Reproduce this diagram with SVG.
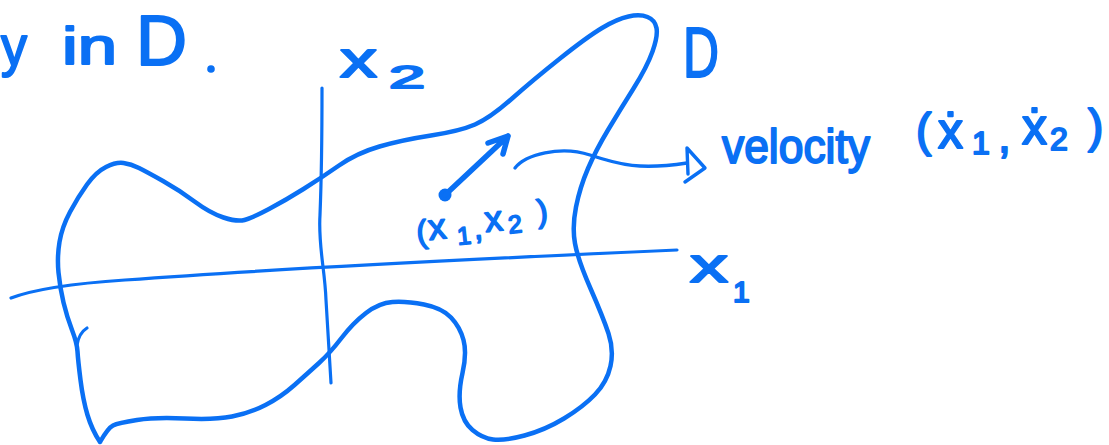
<svg xmlns="http://www.w3.org/2000/svg" width="1109" height="445" viewBox="0 0 1109 445">
  <defs>
    <style>
      .ink { fill: none; stroke: #0a70f4; stroke-linecap: round; stroke-linejoin: round; }
      .blob { stroke-width: 4.5; }
      .axis { stroke-width: 3.2; }
      .conn { stroke-width: 3.4; }
      .vec { stroke-width: 5.5; }
      .t { fill: #0a70f4; stroke: #0a70f4; stroke-width: 2; stroke-linejoin: round; font-family: "Liberation Sans", "DejaVu Sans", sans-serif; }
      .ts { stroke-width: 1.6; }
    </style>
  </defs>
  <rect width="1109" height="445" fill="#ffffff"/>

  <g id="caption">
    <text class="t" x="1" y="65" font-size="56" textLength="26" lengthAdjust="spacingAndGlyphs">y</text>
    <text class="t" x="62" y="64" font-size="52" textLength="55" lengthAdjust="spacingAndGlyphs">in</text>
    <text class="t" x="136" y="65" font-size="70" textLength="51" lengthAdjust="spacingAndGlyphs">D</text>
    <circle cx="211" cy="69" r="3.8" fill="#0a70f4"/>
  </g>

  <g id="region-D">
    <path class="ink blob" d="M100,442 Q92,430 87.5,415 Q83,400 80.5,380 Q78,360 77.5,351.5 Q77,343 72,330 Q67,317 63.5,302.5 Q60,288 58.5,272.5 Q57,257 59.5,242 Q62,227 70,212 Q78,197 87,184.5 Q96,172 106,167 Q116,162 123.5,163 Q131,164 139,168 Q147,172 163,181 Q179,190 194.5,201.5 Q210,213 223.5,217.5 Q237,222 244.5,220 Q252,218 269,209 Q286,200 303.5,189 Q321,178 339,165.5 Q357,153 379.5,146.5 Q402,140 431,135.5 Q460,131 475,124.5 Q490,118 511.5,99 Q533,80 560,58.5 Q587,37 602,28 Q617,19 628.5,16.5 Q640,14 647.5,17 Q655,20 656.5,28 Q658,36 652.5,51.5 Q647,67 633.5,88.5 Q620,110 608,130 Q596,150 588,168.5 Q580,187 576,207 Q572,227 575,243.5 Q578,260 590.5,288.5 Q603,317 608.5,333.5 Q614,350 610.5,366 Q607,382 595,394.5 Q583,407 564,418.5 Q545,430 524.5,435.5 Q504,441 493,439.5 Q482,438 472.5,430 Q463,422 460.5,407.5 Q458,393 462.5,373 Q467,353 463.5,340 Q460,327 451,317.5 Q442,308 424,304.5 Q406,301 392.5,302 Q379,303 366,313 Q353,323 341.5,338 Q330,353 319,363 Q308,373 294.5,385 Q281,397 265.5,405 Q250,413 232,416.5 Q214,420 185,418.5 Q156,417 137,420 Q118,423 113,425.5 Q108,428 100,442"/>
    <path class="ink axis" d="M77,345 Q79,333 87,328"/>
  </g>

  <g id="label-D">
    <text class="t" x="683" y="77" font-size="70" textLength="36" lengthAdjust="spacingAndGlyphs">D</text>
  </g>

  <g id="axis-x2">
    <path class="ink axis" d="M322,88 C322,150 321,190 320,215 C318,245 325,270 326,300 L331,383"/>
    <text class="t" x="340" y="77" font-size="50" textLength="37" lengthAdjust="spacingAndGlyphs">x</text>
    <text class="t" x="389" y="88" font-size="32" textLength="36" lengthAdjust="spacingAndGlyphs">2</text>
  </g>

  <g id="axis-x1">
    <path class="ink axis" d="M11,298 C35,289 80,283 125,280 C260,270 450,260 677,250"/>
    <text class="t" x="690" y="282" font-size="48" textLength="38" lengthAdjust="spacingAndGlyphs">x</text>
    <text class="t" x="733" y="302" font-size="30">1</text>
  </g>

  <g id="point">
    <circle cx="445" cy="195" r="6.5" fill="#0a70f4"/>
    <text class="t ts" font-size="32" transform="rotate(-6 485 225)">
      <tspan x="416" y="236">(</tspan><tspan x="428" y="234" font-size="36">x</tspan><tspan x="456" y="242" font-size="25">1</tspan><tspan x="473" y="238">,</tspan><tspan x="485" y="232" font-size="36">x</tspan><tspan x="508" y="236" font-size="25">2</tspan><tspan x="538" y="228">)</tspan>
    </text>
  </g>

  <g id="connectors">
    <path class="ink vec" d="M445,195 L508,136 M488,143 L508,136 L503,154"/>
    <path class="ink conn" d="M515,168 C525,155 560,145 590,155 C620,165 640,170 687,163"/>
    <path class="ink conn" d="M687,148 L688,174 M687,148 L705,168 L685,182"/>
  </g>

  <g id="label-velocity">
    <text class="t" x="722" y="163" font-size="48" textLength="148" lengthAdjust="spacingAndGlyphs">velocity</text>
    <text class="t" font-size="46">
      <tspan x="916" y="146">(</tspan><tspan x="938" y="148" font-size="50">ẋ</tspan><tspan x="972" y="154" font-size="32">1</tspan><tspan x="998" y="152">,</tspan><tspan x="1022" y="144" font-size="50">ẋ</tspan><tspan x="1050" y="150" font-size="32">2</tspan><tspan x="1088" y="142">)</tspan>
    </text>
  </g>
</svg>
